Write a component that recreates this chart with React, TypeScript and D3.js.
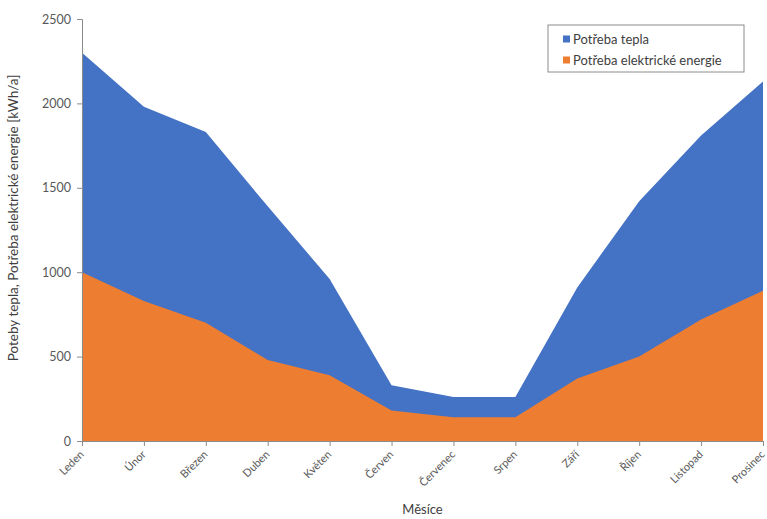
import React, { useRef, useEffect } from 'react';
import * as d3 from 'd3';

// Months (Czech)
const months = ['Leden', 'Únor', 'Březen', 'Duben', 'Květen', 'Červen', 'Červenec', 'Srpen', 'Září', 'Říjen', 'Listopad', 'Prosinec'];
// Heat demand (top of blue area) [kWh/a]
const heatValues = [2300, 1980, 1830, 1390, 960, 330, 260, 260, 910, 1420, 1810, 2130];
// Electric energy demand [kWh/a]
const elecValues = [1000, 830, 700, 480, 390, 180, 140, 140, 370, 500, 720, 890];
const yTicks = [0, 500, 1000, 1500, 2000, 2500];

const seriesNames = ['Potřeba tepla', 'Potřeba elektrické energie'];
const seriesColors = ['#4472c4', '#ed7d31'];

const App = () => {
    const ref = useRef<SVGSVGElement | null>(null);

    useEffect(() => {
        const W = 767, H = 519;
        const margin = { top: 19, right: 4, bottom: 78, left: 82 };
        const width = W - margin.left - margin.right;
        const height = H - margin.top - margin.bottom;
        const font = 'Lato, "Open Sans", sans-serif';

        const root = d3.select(ref.current);
        root.selectAll('*').remove();
        const svg = root.append('g').attr('transform', `translate(${margin.left},${margin.top})`);

        const x = d3.scalePoint<string>().domain(months).range([0, width]);
        const y = d3.scaleLinear().domain([0, 2500]).range([height, 0]);

        const area = (vals: number[]) => d3.area<string>()
            .x(d => x(d) as number)
            .y0(y(0))
            .y1((d, i) => y(vals[i]));

        svg.append('path').datum(months).attr('fill', seriesColors[0]).attr('d', area(heatValues));
        svg.append('path').datum(months).attr('fill', seriesColors[1]).attr('d', area(elecValues));

        // Y axis
        const yAxis = svg.append('g')
            .call(d3.axisLeft(y).tickValues(yTicks).tickSize(5).tickPadding(6).tickFormat(d3.format('d')));
        yAxis.select('.domain').attr('stroke', '#8c8c8c');
        yAxis.selectAll('.tick line').attr('stroke', '#8c8c8c');
        yAxis.selectAll('.tick text').attr('fill', '#595959').style('font-family', font).style('font-size', '12.5px');

        // X axis
        const xAxis = svg.append('g')
            .attr('transform', `translate(0,${height})`)
            .call(d3.axisBottom(x).tickSize(5).tickSizeOuter(0).tickPadding(4));
        xAxis.select('.domain').attr('stroke', '#8c8c8c');
        xAxis.selectAll('.tick line').attr('stroke', '#8c8c8c');
        xAxis.selectAll('.tick text')
            .attr('fill', '#595959')
            .style('font-family', font).style('font-size', '11px')
            .attr('text-anchor', 'end')
            .attr('dy', '0.35em')
            .attr('transform', 'translate(-7,5) rotate(-45)');

        // Axis titles
        svg.append('text')
            .attr('x', width / 2).attr('y', height + 73)
            .attr('text-anchor', 'middle')
            .attr('fill', '#404040')
            .style('font-family', font).style('font-size', '13px')
            .text('Měsíce');

        svg.append('text')
            .attr('transform', 'rotate(-90)')
            .attr('x', -height / 2 + 12).attr('y', -64)
            .attr('text-anchor', 'middle')
            .attr('fill', '#404040')
            .style('font-family', font).style('font-size', '13.5px')
            .text('Poteby tepla, Potřeba elektrické energie [kWh/a]');

        // Legend
        const lg = root.append('g').attr('transform', 'translate(548,25)');
        lg.append('rect').attr('width', 196).attr('height', 47)
            .attr('fill', '#fff').attr('stroke', '#8c8c8c').attr('stroke-width', 1);
        seriesNames.forEach((name, i) => {
            const row = lg.append('g').attr('transform', `translate(15,${14 + i * 21})`);
            row.append('rect').attr('x', 0).attr('y', -3.5).attr('width', 7).attr('height', 7).attr('fill', seriesColors[i]);
            row.append('text').attr('x', 10).attr('dy', '0.35em')
                .attr('fill', '#404040')
                .style('font-family', font).style('font-size', '13px')
                .text(name);
        });
    }, []);

    return (
        <div style={{ position: 'fixed', left: 0, top: 0 }}>
            <svg ref={ref} width={767} height={519} style={{ display: 'block', background: '#fff' }} />
        </div>
    );
};

export default App;
